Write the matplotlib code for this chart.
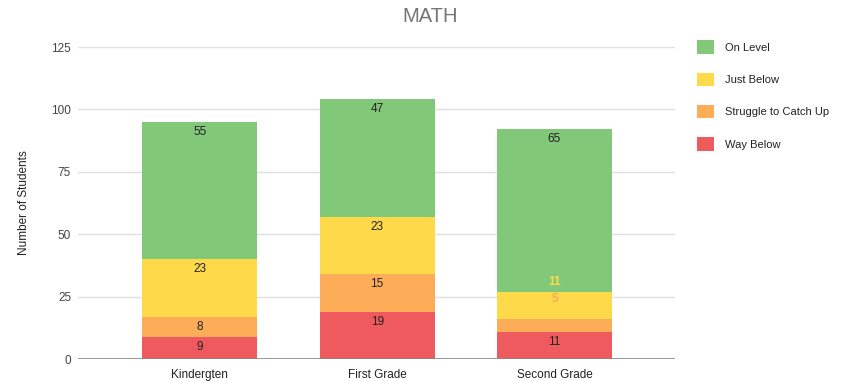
import numpy as np
import matplotlib.pyplot as plt
from matplotlib.patches import Patch

plt.rcParams['font.family'] = ['Liberation Sans', 'DejaVu Sans']

grades = ['Kindergten', 'First Grade', 'Second Grade']
levels = ['Way Below', 'Struggle to Catch Up', 'Just Below', 'On Level']
way_below = [9, 19, 11]
struggle = [8, 15, 5]
just_below = [23, 23, 11]
on_level = [55, 47, 65]
colors = ['#ef5a5f', '#fdac57', '#fed94a', '#81c878']

series = [way_below, struggle, just_below, on_level]

fig = plt.figure(figsize=(8.48, 3.81), dpi=100)
ax = fig.add_axes([0.092, 0.0577, 0.704, 0.8189])

x = np.arange(len(grades))
bottom = np.zeros(len(grades))
px_per_unit = 312 / 125
pushed = [False] * len(grades)  # a label below was bumped out of its bar

for vals, name, col in zip(series, levels, colors):
    vals = np.array(vals, dtype=float)
    ax.bar(x, vals, width=0.65, bottom=bottom, color=col, zorder=3)
    for i, v in enumerate(vals):
        top = bottom[i] + v
        h = v * px_per_unit
        if h >= 18 and not (pushed[i] and h < 30):
            ax.annotate(f'{int(v)}', (x[i], top), xytext=(0, -10),
                        textcoords='offset pixels', ha='center', va='center',
                        fontsize=8.5, color='#222222', zorder=5)
            pushed[i] = False
        else:
            # too thin: label sits above the bar piece, in the series colour
            lift = 10 if pushed[i] else 20
            ax.annotate(f'{int(v)}', (x[i], top), xytext=(0, lift),
                        textcoords='offset pixels', ha='center', va='center',
                        fontsize=8.5, color=col, fontweight='bold', zorder=5)
            pushed[i] = True
    bottom += vals

ax.set_xlim(-0.687, 2.68)
ax.set_ylim(0, 125)
ax.set_yticks([0, 25, 50, 75, 100, 125])
ax.yaxis.grid(True, color='#e0e0e0', lw=1, zorder=0)
ax.axhline(0, color='#888888', lw=1.2, zorder=4)
for s in ax.spines.values():
    s.set_visible(False)
ax.tick_params(axis='both', length=0, labelsize=8.5, colors='#444444')
ax.tick_params(axis='x', labelcolor='#222222', pad=7)
ax.tick_params(axis='y', pad=5)
ax.set_xticks(x)
ax.set_xticklabels(grades)
ax.set_ylabel('Number of Students', fontsize=8.5, color='#222222', labelpad=15)

fig.text(0.507, 0.957, 'MATH', ha='center', va='center', fontsize=14.5, color='#757575')

handles = [Patch(facecolor=c, edgecolor='none') for c in colors[::-1]]
fig.legend(handles, levels[::-1], loc='upper left', bbox_to_anchor=(0.81, 0.92),
           frameon=False, fontsize=8, handlelength=1.5, handleheight=1.5,
           handletextpad=1.0, labelspacing=1.68, labelcolor='#222222')

fig.savefig('out.png', dpi=100)
